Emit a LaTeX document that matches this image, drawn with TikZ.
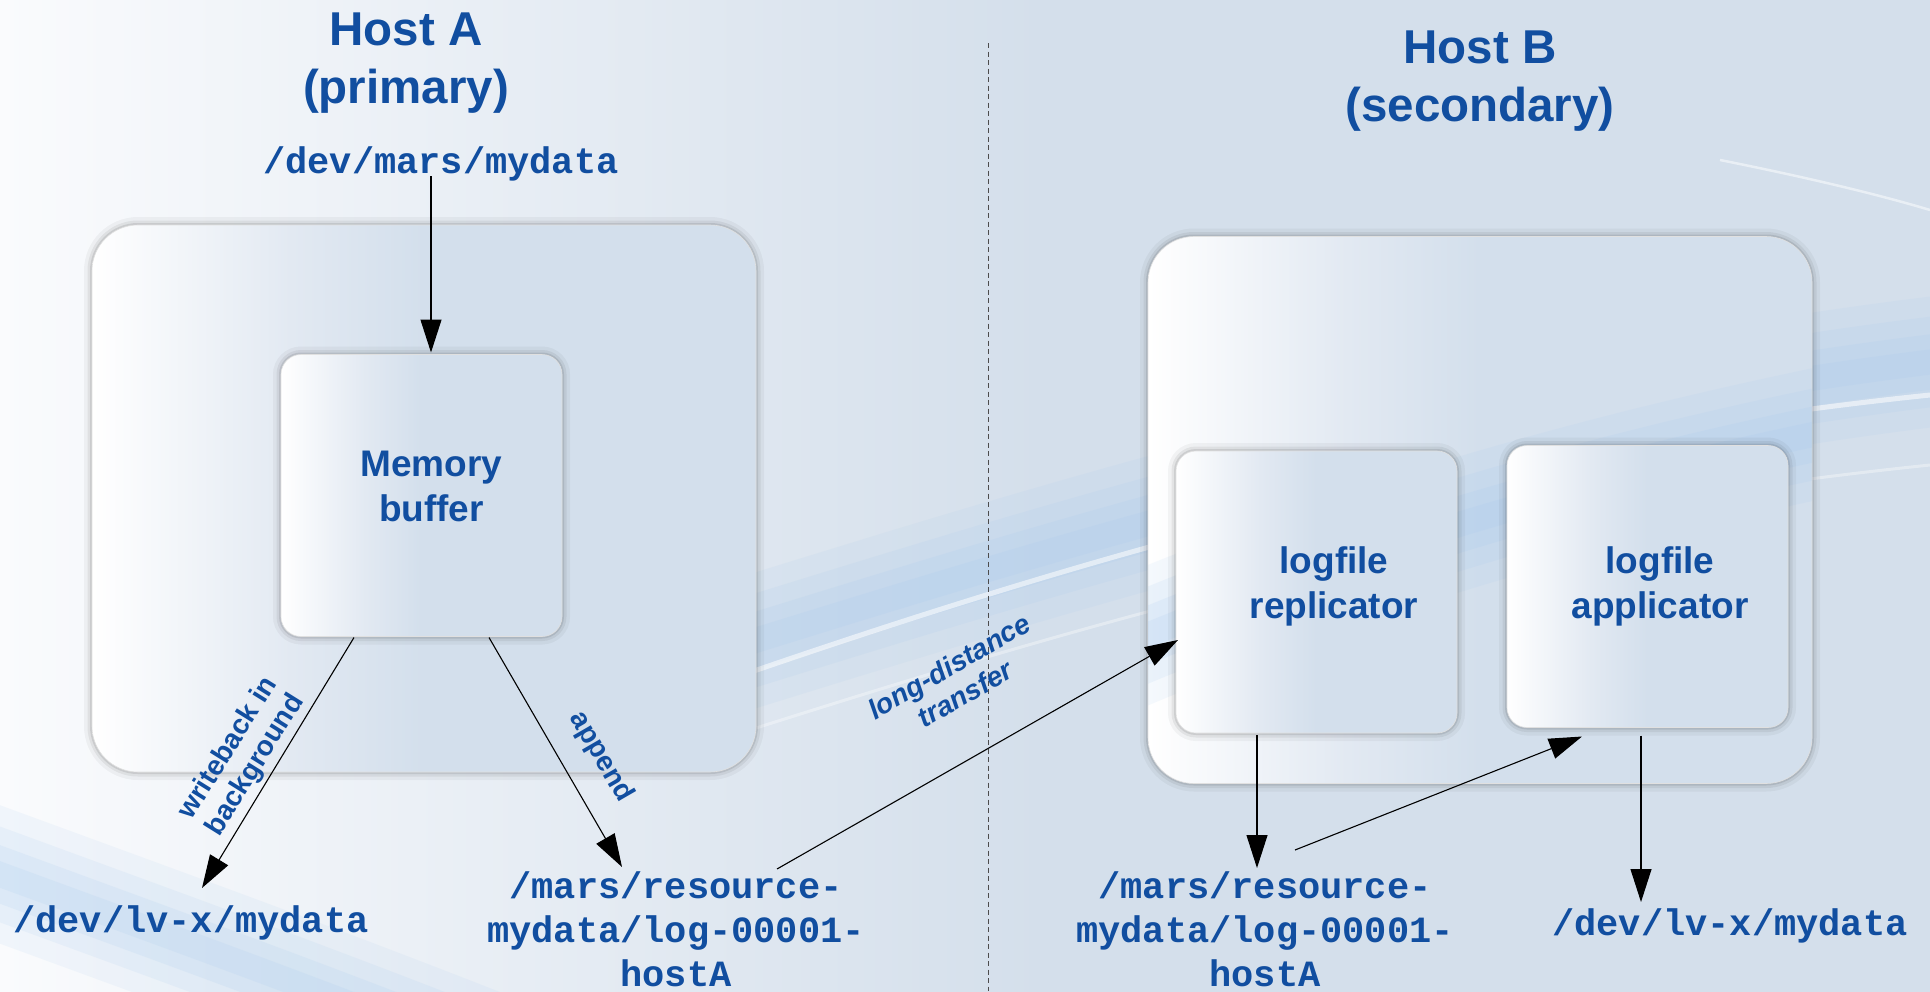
\documentclass[tikz,border=0pt]{standalone}
\usepackage{fontspec}
\setmainfont{Liberation Sans}
\newfontfamily\monof{Liberation Mono}
\usetikzlibrary{arrows.meta,calc}

\definecolor{txtblue}{RGB}{17,78,160}
\definecolor{bgright}{RGB}{212,223,235}
\definecolor{bgleft}{RGB}{250,251,253}
\definecolor{boxblue}{RGB}{211,223,236}
\definecolor{boxmid}{RGB}{226,233,242}
\definecolor{swoosh}{RGB}{160,198,236}

\pgfdeclarehorizontalshading{boxshade}{100bp}{color(0bp)=(white); color(25bp)=(white); color(40bp)=(boxmid); color(50bp)=(boxblue); color(100bp)=(boxblue)}
\pgfdeclarehorizontalshading{bgshade}{100bp}{color(0bp)=(bgleft); color(25bp)=(bgleft); color(52bp)=(bgright); color(100bp)=(bgright)}

\begin{document}
\begin{tikzpicture}[x=1pt,y=-1pt,
  softshadow/.style={
    preaction={draw=black, draw opacity=0.04, line width=16pt},
    preaction={draw=black, draw opacity=0.06, line width=9pt},
    preaction={draw=black, draw opacity=0.09, line width=4pt}},
  softband/.style={
    preaction={draw=swoosh, draw opacity=0.10, line width=130pt},
    preaction={draw=swoosh, draw opacity=0.12, line width=90pt},
    preaction={draw=swoosh, draw opacity=0.14, line width=55pt},
    draw=swoosh, draw opacity=0.14, line width=25pt},
  hostbox/.style={rectangle, rounded corners=46pt, minimum width=664pt, minimum height=547pt,
    inner sep=0pt, outer sep=0pt, shading=boxshade, draw=black!12, line width=0.6pt, softshadow},
  procbox/.style={rectangle, rounded corners=20pt, minimum width=281pt, minimum height=282pt,
    inner sep=0pt, outer sep=0pt, shading=boxshade, draw=black!12, line width=0.6pt, softshadow},
  boxtext/.style={text=txtblue, align=center, inner sep=0pt,
    font=\fontsize{37}{45}\selectfont\bfseries},
  titletext/.style={text=txtblue, align=center, inner sep=0pt,
    font=\fontsize{47.5}{58}\selectfont\bfseries},
  mono/.style={text=txtblue, align=center, inner sep=0pt,
    font=\monof\bfseries\fontsize{37}{44}\selectfont},
  lbl/.style={text=txtblue, align=center, inner sep=0pt,
    font=\fontsize{28}{32}\selectfont\bfseries},
  arr/.style={draw=black, line width=1.1pt, -{Triangle[length=33pt,width=21pt]}},
  sepline/.style={draw=black!70, line width=0.9pt, dash pattern=on 5pt off 3.5pt}
]
\useasboundingbox (0,0) rectangle (1930,991);
% background
\fill[shading=bgshade] (0,0) rectangle (1930,991);
% decorative swooshes
\path[softband] (560,700) .. controls (900,600) and (1400,420) .. (1990,355);
\draw[white, opacity=0.55, line width=5pt] (600,725) .. controls (950,600) and (1400,450) .. (1930,395);
\draw[white, opacity=0.35, line width=3pt] (640,765) .. controls (1000,650) and (1400,520) .. (1930,465);
\path[softband] (-80,845) .. controls (150,930) and (350,1000) .. (620,1110);
\draw[white, opacity=0.5, line width=2.5pt] (1720,160) .. controls (1810,178) and (1880,195) .. (1930,210);
% separator
\draw[sepline] (988,43) -- (988,991);
% host boxes
\node[hostbox] (hostA) at (424,498.5) {};
\node[hostbox] (hostB) at (1480,510) {};
\begin{scope}
  \clip[rounded corners=46pt] (1148,236.5) rectangle (1812,783.5);
  \path[softband] (1000,700) .. controls (1300,560) and (1600,470) .. (1990,400);
\end{scope}
% inner boxes
\node[procbox] (mb) at (421.5,495.5) {};
\node[procbox] (rep) at (1316.5,592) {};
\node[procbox] (app) at (1647.5,586.5) {};
% box texts
\node[boxtext] (mbt) at (431.5,486) {Memory\\buffer};
\node[boxtext] (rept) at (1334,586) {logfile\\replicator};
\node[boxtext] (appt) at (1660,586) {logfile\\applicator};
% titles
\node[titletext] (tA) at (406,63) {Host A\\(primary)};
\node[titletext] (tB) at (1480,81) {Host B\\(secondary)};
% paths
\node[mono, anchor=base] (dmm) at (441,173) {/dev/mars/mydata};
\node[mono, anchor=base] (lvA) at (191,932) {/dev/lv-x/mydata};
\node[mono, anchor=base] (lvB) at (1730,935) {/dev/lv-x/mydata};
\node[mono, anchor=north] (logA) at (676,871) {/mars/resource-\\mydata/log-00001-\\hostA};
\node[mono, anchor=north] (logB) at (1265,871) {/mars/resource-\\mydata/log-00001-\\hostA};
% connectors
\draw[arr] ([shift={(-10,3)}]dmm.base) -- ([shift={(9.5,-2)}]mb.north);
\draw[arr] ([shift={(-67.5,1)}]mb.south) -- ([shift={(11,-44)}]lvA.base);
\draw[arr] ([shift={(67.5,1)}]mb.south) -- ([shift={(-54,-4)}]logA.north);
\draw[arr] ([shift={(101,-2)}]logA.north) -- ([shift={(2,48)}]rep.west);
\draw[arr] ([shift={(-59.5,2)}]rep.south) -- ([shift={(-8,-3)}]logB.north);
\draw[arr] ([shift={(30,-21)}]logB.north) -- ([shift={(-65.5,9)}]app.south);
\draw[arr] ([shift={(-6.5,8)}]app.south) -- ([shift={(-89,-33)}]lvB.base);
% connector labels
\node[lbl, rotate=58] (wbl) at (242,757) {writeback in\\background};
\node[lbl, rotate=-60] (apl) at (601,757) {append};
\node[lbl, font=\fontsize{28}{32}\selectfont\bfseries\itshape, rotate=30] (ldl) at (957,680) {long-distance\\transfer};
\end{tikzpicture}
\end{document}
